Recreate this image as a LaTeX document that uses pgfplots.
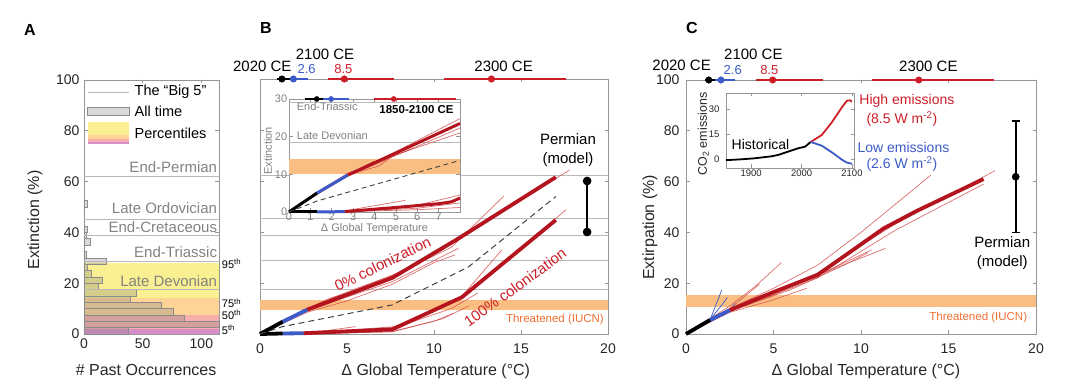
\documentclass[border=0pt]{standalone}
\usepackage{pgfplots}
\pgfplotsset{compat=1.18}
\usepackage{fontspec}
\setmainfont{Liberation Sans}
\setsansfont{Liberation Sans}
\definecolor{axg}{RGB}{150,150,150}
\definecolor{big5}{RGB}{185,185,185}
\definecolor{txtg}{RGB}{130,130,130}
\definecolor{pYel}{RGB}{250,240,145}
\definecolor{pOra}{RGB}{253,212,150}
\definecolor{pPin}{RGB}{247,175,172}
\definecolor{pMag}{RGB}{216,140,200}
\definecolor{band}{RGB}{250,190,130}
\definecolor{thr}{RGB}{240,110,50}
\definecolor{dred}{RGB}{180,20,30}
\definecolor{lred}{RGB}{212,75,75}
\definecolor{tred}{RGB}{205,30,40}
\definecolor{mblue}{RGB}{60,90,200}
\newcommand{\fs}[1]{\fontsize{#1}{#1}\selectfont}

\pgfplotsset{
  base/.style={
    scale only axis, anchor=south west, clip=false,
    axis line style={axg, line width=0.6pt},
    tick style={axg, line width=0.6pt},
    tick align=inside, major tick length=3.5pt,
    /pgf/number format/assume math mode=true,
    ticklabel style={font=\fs{14}, text=black!85},
    label style={font=\fs{16}, text=black!85},
    ymin=0, ymax=100,
  },
  thin/.style={lred, line width=0.7pt, opacity=0.8},
  thick/.style={dred, line width=3.8pt, line join=round},
  strip/.style={line width=2.6pt},
}

\begin{document}
\begin{tikzpicture}[x=1pt,y=1pt]
\useasboundingbox (0,0) rectangle (1080,391);

% ---------------- Panel A ----------------
\begin{axis}[base, at={(84pt,57pt)}, width=135pt, height=254pt,
  xmin=0, xmax=115, xtick={0,50,100}, ytick={0,20,...,100},
  xticklabel style={yshift=-1pt}, yticklabel style={xshift=-1pt},
  xlabel={\# Past Occurrences}, ylabel={Extinction (\%)},
  xlabel style={at={(axis description cs:0.46,-0.142)}, anchor=center},
  ylabel style={at={(axis description cs:-0.363,0.449)}, anchor=center},
]
\addplot[draw=none, fill=pMag] coordinates {(0,0)(115,0)(115,2)(0,2)} -- cycle;
\addplot[draw=none, fill=pPin] coordinates {(0,2)(115,2)(115,7.5)(0,7.5)} -- cycle;
\addplot[draw=none, fill=pOra] coordinates {(0,7.5)(115,7.5)(115,14)(0,14)} -- cycle;
\addplot[draw=none, fill=pYel] coordinates {(0,14)(115,14)(115,28.1)(0,28.1)} -- cycle;
\addplot[xbar interval, fill=black!50, fill opacity=0.3, draw=black!45, line width=0.5pt] coordinates {
(38,0)(115,2.5)(85,5)(76,7.5)(66,10)(39,12.5)(44.5,15)(12.3,17.5)(15.7,20)(6,22.5)(2.8,25)(18.8,27.5)(2.3,30)(0,32.5)(5,35)(2,37.5)(3,40)(0,42.5)(0,45)(0,47.5)(3,50)(0,52.5)};
\addplot[big5, line width=0.8pt] coordinates {(0,62)(115,62)};
\addplot[big5, line width=0.8pt] coordinates {(0,45.3)(115,45.3)};
\addplot[big5, line width=0.8pt] coordinates {(0,38.8)(115,38.8)};
\addplot[big5, line width=0.8pt] coordinates {(0,28.7)(115,28.7)};
\addplot[big5, line width=0.8pt] coordinates {(0,17.6)(115,17.6)};
\node[anchor=base east, font=\fs{15}, text=txtg, inner sep=0] at (axis cs:113.5,63.7) {End-Permian};
\node[anchor=base east, font=\fs{15}, text=txtg, inner sep=0] at (axis cs:113.5,47.5) {Late Ordovician};
\node[anchor=base east, font=\fs{15}, text=txtg, inner sep=0] at (axis cs:113.5,39.8) {End-Cretaceous};
\node[anchor=base east, font=\fs{15}, text=txtg, inner sep=0] at (axis cs:113.5,30.2) {End-Triassic};
\node[anchor=base east, font=\fs{15}, text=txtg, inner sep=0] at (axis cs:113.5,18.8) {Late Devonian};
% legend
\addplot[big5, line width=0.9pt] coordinates {(3,95.2)(38.7,95.2)};
\addplot[fill=black!50, fill opacity=0.3, draw=black!45, line width=0.5pt] coordinates {(3,86.2)(38.7,86.2)(38.7,89.3)(3,89.3)} -- cycle;
\addplot[draw=none, fill=pYel] coordinates {(3,78.3)(38.7,78.3)(38.7,83.6)(3,83.6)} -- cycle;
\addplot[draw=none, fill=pOra] coordinates {(3,76.7)(38.7,76.7)(38.7,78.3)(3,78.3)} -- cycle;
\addplot[draw=none, fill=pPin] coordinates {(3,75.6)(38.7,75.6)(38.7,76.7)(3,76.7)} -- cycle;
\addplot[draw=none, fill=pMag] coordinates {(3,74.8)(38.7,74.8)(38.7,75.6)(3,75.6)} -- cycle;
\node[anchor=west, font=\fs{14.5}, inner sep=0] at (axis cs:43,95.2) {The “Big 5”};
\node[anchor=west, font=\fs{14.5}, inner sep=0] at (axis cs:43,87.8) {All time};
\node[anchor=west, font=\fs{14.5}, inner sep=0] at (axis cs:43,79.2) {Percentiles};
% percentile labels
\node[anchor=west, font=\fs{11}, inner sep=0] at (axis cs:117.3,27.8) {95\textsuperscript{th}};
\node[anchor=west, font=\fs{11}, inner sep=0] at (axis cs:117.3,12.1) {75\textsuperscript{th}};
\node[anchor=west, font=\fs{11}, inner sep=0] at (axis cs:117.3,7.6) {50\textsuperscript{th}};
\node[anchor=west, font=\fs{11}, inner sep=0] at (axis cs:117.3,1.6) {5\textsuperscript{th}};
\end{axis}

% ---------------- Panel B ----------------
\begin{axis}[base, at={(260pt,57pt)}, width=348pt, height=255pt,
  xmin=0, xmax=20, xtick={0,5,...,20}, ytick={0,20,...,100}, yticklabels={},
  xticklabel style={yshift=-6pt},
  xlabel={Δ Global Temperature (°C)},
  xlabel style={at={(axis description cs:0.505,-0.148)}, anchor=center},
]
\addplot[draw=none, fill=band] coordinates {(0,9.4)(20,9.4)(20,13.3)(0,13.3)} -- cycle;
\addplot[big5, line width=0.8pt] coordinates {(0,62)(20,62)};
\addplot[big5, line width=0.8pt] coordinates {(0,45.3)(20,45.3)};
\addplot[big5, line width=0.8pt] coordinates {(0,38.8)(20,38.8)};
\addplot[big5, line width=0.8pt] coordinates {(0,28.7)(20,28.7)};
\addplot[big5, line width=0.8pt] coordinates {(0,17.6)(20,17.6)};
% thin lines, 0% colonization
\addplot[thin] coordinates {(0,0)(1.3,4.5)(2.7,9)(5,14.5)(7.6,20.5)(11.4,33.6)};
\addplot[thin] coordinates {(0,0)(1.3,5)(2.7,10)(5.4,17.5)(8,24)(11,34)(14,54)};
\addplot[thin] coordinates {(0,0)(2.7,9.5)(7.6,22.5)(12,40.5)(17.8,64.3)};
\addplot[thin] coordinates {(0,0)(2.7,8.5)(5,13)(7.6,19.5)(10,28)(11.2,31)};
\addplot[thin] coordinates {(0,0)(2.5,9.2)(4,14)(5.4,17)};
\addplot[thin] coordinates {(0,0)(2.7,9.8)(7.6,23)(10.5,33)};
% thin lines, 100% colonization
\addplot[thin] coordinates {(0,0)(2.5,0.4)(4,1.5)(5.5,2.9)};
\addplot[thin] coordinates {(0,0)(2.5,0.2)(7.6,1)(10,5)(11.1,8.1)};
\addplot[thin] coordinates {(0,0)(2.5,0.3)(7.6,2.5)(11.5,14)(13.9,33)};
\addplot[thin] coordinates {(0,0)(2.5,0.2)(7.6,1.5)(12,16)(17.6,48.8)};
\addplot[thin] coordinates {(0,0)(2.5,0.3)(8,3)(11,10)(12.5,16)};
\addplot[thin] coordinates {(0,0)(2.5,0.1)(7.6,0.8)(10.5,6)(12,11)};
% thick lines
\addplot[thick] coordinates {(2.7,9.5)(7.6,22)(11.3,37)(17,61.5)};
\addplot[thick, mblue] coordinates {(1.3,4.8)(2.7,9.5)};
\addplot[thick, black] coordinates {(0,0)(1.3,4.8)};
\addplot[thick] coordinates {(2.5,0.3)(7.6,1.8)(11.6,14.4)(17,44.7)};
\addplot[thick, mblue] coordinates {(1.3,0.2)(2.5,0.3)};
\addplot[thick, black] coordinates {(0,0)(1.3,0.2)};
\addplot[black!75, line width=1pt, dash pattern=on 6pt off 4pt] coordinates {(0,0)(1.3,2.9)(7.6,11.4)(12,26.4)(17,53.9)};
% Permian model
\addplot[black, line width=1.6pt, mark=*, mark size=3.5pt] coordinates {(18.8,40)(18.8,60)};
% top strip
\addplot[black, strip] coordinates {(0.96,100)(1.72,100)};
\addplot[mblue, strip] coordinates {(1.72,100)(2.78,100)};
\addplot[tred, strip] coordinates {(3.88,100)(7.7,100)};
\addplot[tred, strip] coordinates {(10.6,100)(17.6,100)};
\addplot[only marks, mark=*, mark size=3.3pt, black] coordinates {(1.26,100)};
\addplot[only marks, mark=*, mark size=3.3pt, mblue] coordinates {(1.92,100)};
\addplot[only marks, mark=*, mark size=3.3pt, tred] coordinates {(4.84,100)};
\addplot[only marks, mark=*, mark size=3.3pt, tred] coordinates {(13.3,100)};
\node[anchor=east, font=\fs{15}, inner sep=0] at (axis cs:1.82,104.8) {2020 CE};
\node[font=\fs{15}, inner sep=0] at (axis cs:3.74,109.7) {2100 CE};
\node[font=\fs{13}, text=mblue, inner sep=0] at (axis cs:2.68,103.8) {2.6};
\node[font=\fs{13}, text=tred, inner sep=0] at (axis cs:4.79,103.8) {8.5};
\node[font=\fs{15}, inner sep=0] at (axis cs:14.0,105.1) {2300 CE};
\node[font=\fontsize{15}{19}\selectfont, align=center, inner sep=0] at (axis cs:17.7,72.2) {Permian\\(model)};
\node[font=\fs{15}, text=tred, rotate=26, inner sep=0] at (axis cs:7.05,27.5) {0\% colonization};
\node[font=\fs{15}, text=tred, rotate=36, inner sep=0] at (axis cs:14.66,18.3) {100\% colonization};
\node[font=\fs{11.5}, text=thr, inner sep=0] at (axis cs:16.95,5.5) {Threatened (IUCN)};
\end{axis}

% ---------------- Inset B ----------------
\begin{axis}[base, at={(289pt,179pt)}, width=171pt, height=113pt,
  axis background/.style={fill=white},
  xmin=0, xmax=8, ymin=0, ymax=30, xtick={0,...,7}, ytick={0,10,20,30},
  ticklabel style={font=\fs{11}, text=txtg},
  xticklabel style={yshift=2.5pt}, yticklabel style={xshift=1.7pt},
  xlabel={Δ Global Temperature}, ylabel={Extinction},
  label style={font=\fs{11}, text=txtg},
  xlabel style={at={(axis description cs:0.5,-0.145)}, anchor=center},
  ylabel style={at={(axis description cs:-0.123,0.54)}, anchor=center},
]
\addplot[draw=none, fill=band] coordinates {(0,10)(8,10)(8,14)(0,14)} -- cycle;
\addplot[big5, line width=0.8pt] coordinates {(0,18.4)(8,18.4)};
\addplot[big5, line width=0.8pt] coordinates {(0,29)(8,29)};
\addplot[thin] coordinates {(0,0)(1.3,5)(2.75,10)(5,16)(8,24.8)};
\addplot[thin] coordinates {(0,0)(1.3,4.6)(2.75,9.5)(5,15)(8,22.3)};
\addplot[thin] coordinates {(0,0)(1.3,5.2)(2.75,10.3)(5.8,16.9)};
\addplot[thin] coordinates {(0,0)(1.3,4.8)(2.75,9.6)(5,15.2)(8,21)};
\addplot[thin] coordinates {(0,0)(2.75,10)(4,13.5)};
\addplot[thin] coordinates {(0,0)(2.75,9.8)(4.2,12.2)(5.5,17.5)};
\addplot[thin] coordinates {(0,0)(2.6,0.3)(5.45,3.1)};
\addplot[thin] coordinates {(0,0)(2.6,0.2)(6,1.8)(8,4.5)};
\addplot[thin] coordinates {(0,0)(2.6,0.1)(6,1)(8,2.4)};
\addplot[thin] coordinates {(0,0)(2.6,0.1)(6,0.6)(8,1.2)};
\addplot[thick, line width=3pt] coordinates {(2.75,9.8)(8,23.5)};
\addplot[thick, line width=3pt, mblue] coordinates {(1.3,5)(2.75,9.8)};
\addplot[thick, line width=3pt, black] coordinates {(0,0)(1.3,5)};
\addplot[thick, line width=3pt] coordinates {(2.6,0.1)(5,1.2)(7,2.2)(7.6,2.7)(8,3.7)};
\addplot[thick, line width=3pt, mblue] coordinates {(1.3,0)(2.6,0.1)};
\addplot[thick, line width=3pt, black] coordinates {(0,0)(1.3,0)};
\addplot[black!75, line width=0.9pt, dash pattern=on 5pt off 3.5pt] coordinates {(0,0)(1.3,2.9)(8,13.7)};
\addplot[black, line width=2pt] coordinates {(0.75,30)(1.6,30)};
\addplot[mblue, line width=2pt] coordinates {(1.6,30)(2.8,30)};
\addplot[tred, line width=2pt] coordinates {(3.96,30)(7.8,30)};
\addplot[only marks, mark=*, mark size=2.6pt, black] coordinates {(1.3,30)};
\addplot[only marks, mark=*, mark size=2.6pt, mblue] coordinates {(1.97,30)};
\addplot[only marks, mark=*, mark size=2.6pt, tred] coordinates {(4.9,30)};
\node[anchor=west, font=\fs{11}, text=txtg, inner sep=0] at (axis cs:0.36,27.9) {End-Triassic};
\node[anchor=west, font=\fs{11}, text=txtg, inner sep=0] at (axis cs:0.36,20.2) {Late Devonian};
\node[anchor=east, font=\bfseries\fs{11.5}, inner sep=0] at (axis cs:7.71,27.3) {1850-2100 CE};
\end{axis}

% ---------------- Panel C ----------------
\begin{axis}[base, at={(686pt,57pt)}, width=350pt, height=254pt,
  xmin=0, xmax=20, xtick={0,5,...,20}, ytick={0,20,...,100},
  xticklabel style={yshift=-6pt}, yticklabel style={xshift=-3pt},
  xlabel={Δ Global Temperature (°C)}, ylabel={Extirpation (\%)},
  xlabel style={at={(axis description cs:0.514,-0.148)}, anchor=center},
  ylabel style={at={(axis description cs:-0.103,0.42)}, anchor=center},
]
\addplot[draw=none, fill=band] coordinates {(0,10.8)(20,10.8)(20,15.4)(0,15.4)} -- cycle;
\addplot[thin] coordinates {(0,0)(2.5,10)(5,18)(7.5,27)(10,40)(14,62.6)};
\addplot[thin] coordinates {(0,0)(2.5,11)(4,19)(5.45,28.1)};
\addplot[thin] coordinates {(0,0)(2.5,9)(5,15.5)(7.5,23)(10.6,33.1)};
\addplot[thin] coordinates {(0,0)(2.5,9.2)(5,16)(8,24.5)(11.4,33.7)};
\addplot[thin] coordinates {(0,0)(2.5,8.5)(5,13.5)(6.9,18)};
\addplot[thin] coordinates {(0,0)(2.5,10)(4.2,19.6)};
\addplot[thin] coordinates {(0,0)(2.5,9.5)(7.5,24)(12,43.5)(17.66,64.3)};
\addplot[thin] coordinates {(0,0)(2.5,8.8)(7.5,22)(12,41)(17,59)};
\addplot[thin] coordinates {(0,0)(2.5,9.8)(4.5,15)(6.5,20)};
\addplot[thin] coordinates {(0,0)(2.5,9)(6,17.5)(9,27)(10.4,32)};
\addplot[mblue, line width=0.7pt] coordinates {(0,0)(1.4,6)(2.04,17.3)};
\addplot[mblue, line width=0.7pt] coordinates {(0,0)(1.4,6)(2.0,11)(2.36,14.4)};
\addplot[mblue, line width=0.7pt] coordinates {(0,0)(1.4,5.5)(2.2,8)(2.86,11)};
\addplot[mblue, line width=0.7pt] coordinates {(0,0)(1.4,5)(2.5,9)(2.8,12)};
\addplot[thick] coordinates {(2.5,9.4)(5,16.5)(7.5,23.2)(9.4,32.4)(11.3,41.6)(13.2,48.5)(17,61)};
\addplot[thick, mblue] coordinates {(1.37,5.5)(2.5,9.4)};
\addplot[thick, black] coordinates {(0,0)(1.37,5.5)};
% Permian model
\addplot[black, line width=1.6pt] coordinates {(18.84,40)(18.84,83.9)};
\addplot[black, line width=1.6pt] coordinates {(18.6,83.9)(19.08,83.9)};
\addplot[black, line width=1.6pt] coordinates {(18.6,40)(19.08,40)};
\addplot[only marks, mark=*, mark size=3.6pt, black] coordinates {(18.84,61.9)};
% top strip
\addplot[black, strip] coordinates {(1.1,100)(1.66,100)};
\addplot[mblue, strip] coordinates {(1.66,100)(2.8,100)};
\addplot[tred, strip] coordinates {(4.0,100)(7.8,100)};
\addplot[tred, strip] coordinates {(10.6,100)(17.6,100)};
\addplot[only marks, mark=*, mark size=3.3pt, black] coordinates {(1.3,100)};
\addplot[only marks, mark=*, mark size=3.3pt, mblue] coordinates {(2.0,100)};
\addplot[only marks, mark=*, mark size=3.3pt, tred] coordinates {(4.95,100)};
\addplot[only marks, mark=*, mark size=3.3pt, tred] coordinates {(13.3,100)};
\node[font=\fs{15}, inner sep=0] at (axis cs:-0.25,105.9) {2020 CE};
\node[font=\fs{15}, inner sep=0] at (axis cs:3.85,110.1) {2100 CE};
\node[font=\fs{13}, text=mblue, inner sep=0] at (axis cs:2.67,103.9) {2.6};
\node[font=\fs{13}, text=tred, inner sep=0] at (axis cs:4.76,103.9) {8.5};
\node[font=\fs{15}, inner sep=0] at (axis cs:13.85,105.5) {2300 CE};
\node[font=\fontsize{15}{19}\selectfont, align=center, inner sep=0] at (axis cs:18.07,32) {Permian\\(model)};
\node[font=\fs{11.5}, text=thr, inner sep=0] at (axis cs:16.7,6.6) {Threatened (IUCN)};
\end{axis}

% ---------------- Inset C ----------------
\begin{axis}[base, at={(726pt,223pt)}, width=128pt, height=75pt,
  axis background/.style={fill=white},
  xmin=1850, xmax=2104, ymin=-5, ymax=40, xtick={1900,2000,2100}, ytick={0,15,30},
  ticklabel style={font=\fs{9.5}},
  xticklabel style={/pgf/number format/1000 sep={}, yshift=2pt},
  yticklabel style={xshift=-3pt},
  ylabel={CO\textsubscript{2} emissions}, label style={font=\fs{12.5}},
  ylabel style={at={(axis description cs:-0.177,0.453)}, anchor=center},
]
\addplot[black, line width=1.8pt] coordinates {(1850,-0.3)(1880,0.2)(1906,0.8)(1940,2)(1953,2.8)(1973,4.8)(1993,6.8)(2007,7.8)(2018,10.6)};
\addplot[tred, line width=1.8pt] coordinates {(2018,10.6)(2040,14.8)(2060,22.4)(2080,31.4)(2090,35.4)(2096,35.6)(2100,34.8)};
\addplot[mblue, line width=1.8pt] coordinates {(2018,10.6)(2040,8.4)(2060,4.4)(2080,0)(2090,-1.8)(2100,-2.4)};
\node[anchor=west, font=\fs{14}, inner sep=0] at (axis cs:1861,9.4) {Historical};
\node[anchor=west, font=\fs{14}, text=tred, inner sep=0] at (axis cs:2114.5,35.4) {High emissions};
\node[font=\fs{14}, text=tred, inner sep=0] at (axis cs:2199,24.6) {(8.5 W m\textsuperscript{-2})};
\node[anchor=west, font=\fs{14}, text=mblue, inner sep=0] at (axis cs:2110.6,7.4) {Low emissions};
\node[font=\fs{14}, text=mblue, inner sep=0] at (axis cs:2199,-2.4) {(2.6 W m\textsuperscript{-2})};
\end{axis}

% panel letters
\node[font=\bfseries\fs{16}] at (30,361) {A};
\node[font=\bfseries\fs{16}] at (266,363.5) {B};
\node[font=\bfseries\fs{16}] at (692,363.5) {C};
\end{tikzpicture}
\end{document}
